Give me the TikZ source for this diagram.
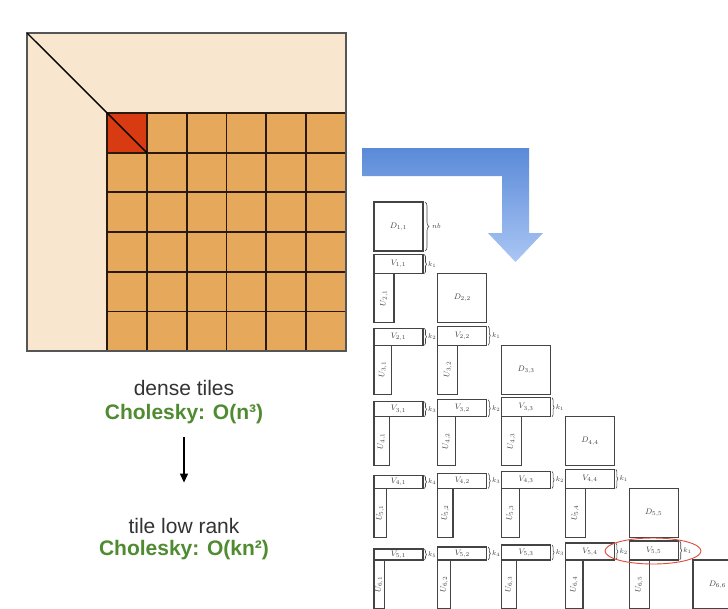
\documentclass[tikz,border=0pt]{standalone}
\usepackage{fontspec}
\setmainfont{Liberation Sans}
\usepackage{graphicx}
\usetikzlibrary{arrows.meta,decorations.pathreplacing,shapes.geometric}

\definecolor{cream}{HTML}{F8E7CE}
\definecolor{tile}{HTML}{E6A85B}
\definecolor{diagred}{HTML}{D83A12}
\definecolor{gridline}{HTML}{2A1A0E}
\definecolor{frame}{HTML}{555555}
\definecolor{costgreen}{HTML}{4F8B30}
\definecolor{arrowtop}{HTML}{5A8AD8}
\definecolor{arrowbot}{HTML}{AAC6F4}
\definecolor{boxline}{HTML}{444444}
\definecolor{ring}{HTML}{E04A3A}

\begin{document}
\begin{tikzpicture}[x=1pt,y=-1pt,
  caption/.style={font=\fontsize{21}{24}\selectfont, text=black!80, inner sep=0pt, anchor=base},
  cost/.style={font=\fontsize{21}{24}\selectfont\bfseries, text=costgreen, inner sep=0pt, anchor=base},
  tilebox/.style={draw=boxline, line width=1.1pt, inner sep=0pt, outer sep=0pt,
    font=\fontsize{8.5}{9}\selectfont, text=black!75},
  rankbrace/.style={draw=boxline, line width=0.6pt, decorate, decoration={brace, amplitude=2pt}},
  ranklabel/.style={font=\fontsize{7.5}{8}\selectfont, text=black!75, inner sep=0pt, anchor=west},
]
\clip (0,0) rectangle (728,608);
\fill[white] (0,0) rectangle (728,608);

% dense matrix with its tiled trailing part
\fill[cream] (27,33) rectangle (346,351);
\fill[tile] (107,113) rectangle (346,351);
\fill[diagred] (107,113) rectangle (146.83,152.67);
\foreach \c in {0,...,6}{
  \draw[gridline, line width=1.7pt] (107+39.83*\c,113) -- (107+39.83*\c,351);
  \draw[gridline, line width=1.7pt] (107,113+39.67*\c) -- (346,113+39.67*\c);
}
\draw[frame, line width=1.4pt] (27,33) rectangle (346,351);
\draw[black, line width=1.4pt] (27,33) -- (146.83,152.67);

% bent arrow
\shade[top color=arrowtop, bottom color=arrowbot]
  (362,148) -- (529,148) -- (529,233) -- (543,233) -- (515.5,262)
  -- (488,233) -- (502,233) -- (502,176) -- (362,176) -- cycle;

% captions
\node[caption] (dense) at (184,395) {dense tiles};
\node[cost] (chol1) at (184,419) {Cholesky: O(n³)};
\node[caption] (tlr) at (184,533) {tile low rank};
\node[cost] (chol2) at (184,555) {Cholesky: O(kn²)};
\draw[-{Triangle[length=9pt,width=8pt]}, line width=1.2pt,
  shorten <=13.5pt, shorten >=35pt] (chol1.south) -- (tlr.north);

% tile low-rank layout: diagonal blocks
\foreach \bi in {1,...,6}{
  \pgfmathsetmacro\yt{202+71.6*(\bi-1)}
  \pgfmathsetmacro\xl{374+63.8*(\bi-1)}
  \node[tilebox, minimum width=49pt, minimum height=49pt] (D\bi)
    at (\xl+24.5,\yt+24.5) {$D_{\bi,\bi}$};
}
\draw[rankbrace, decoration={brace, amplitude=4pt}]
  ([xshift=2pt]D1.north east) -- ([xshift=2pt]D1.south east);
\node[ranklabel] (nb) at ([xshift=9pt]D1.east) {$nb$};

% off-diagonal low-rank factors
\foreach \bi in {1,...,5}{
  \foreach \cj in {1,...,\bi}{
    \pgfmathtruncatemacro\q{\bi-\cj+1}
    \pgfmathtruncatemacro\nexti{\bi+1}
    \pgfmathsetmacro\yb{202+71.6*\bi}
    \pgfmathsetmacro\xl{374+63.8*(\cj-1)}
    \pgfmathsetmacro\vh{21-2*\q}
    \pgfmathsetmacro\uw{22.4-2.4*\q}
    \node[tilebox, minimum width=49pt, minimum height=\vh pt] (V\bi-\cj)
      at (\xl+24.5,\yb-\vh/2) {$V_{\bi,\cj}$};
    \draw[rankbrace] ([xshift=1.5pt]V\bi-\cj.north east) -- ([xshift=1.5pt]V\bi-\cj.south east);
    \node[ranklabel] (k\bi-\cj) at ([xshift=5pt]V\bi-\cj.east) {$k_{\q}$};
    \node[tilebox, minimum width=\uw pt, minimum height=49pt] (U\nexti-\cj)
      at (\xl+\uw/2,\yb+24.5) {\rotatebox{90}{$U_{\nexti,\cj}$}};
  }
}

% highlighted block
\node[draw=ring, ellipse, line width=0.9pt, minimum width=96pt, minimum height=26pt,
  inner sep=0pt] (focus) at (653,551) {};
\end{tikzpicture}
\end{document}
